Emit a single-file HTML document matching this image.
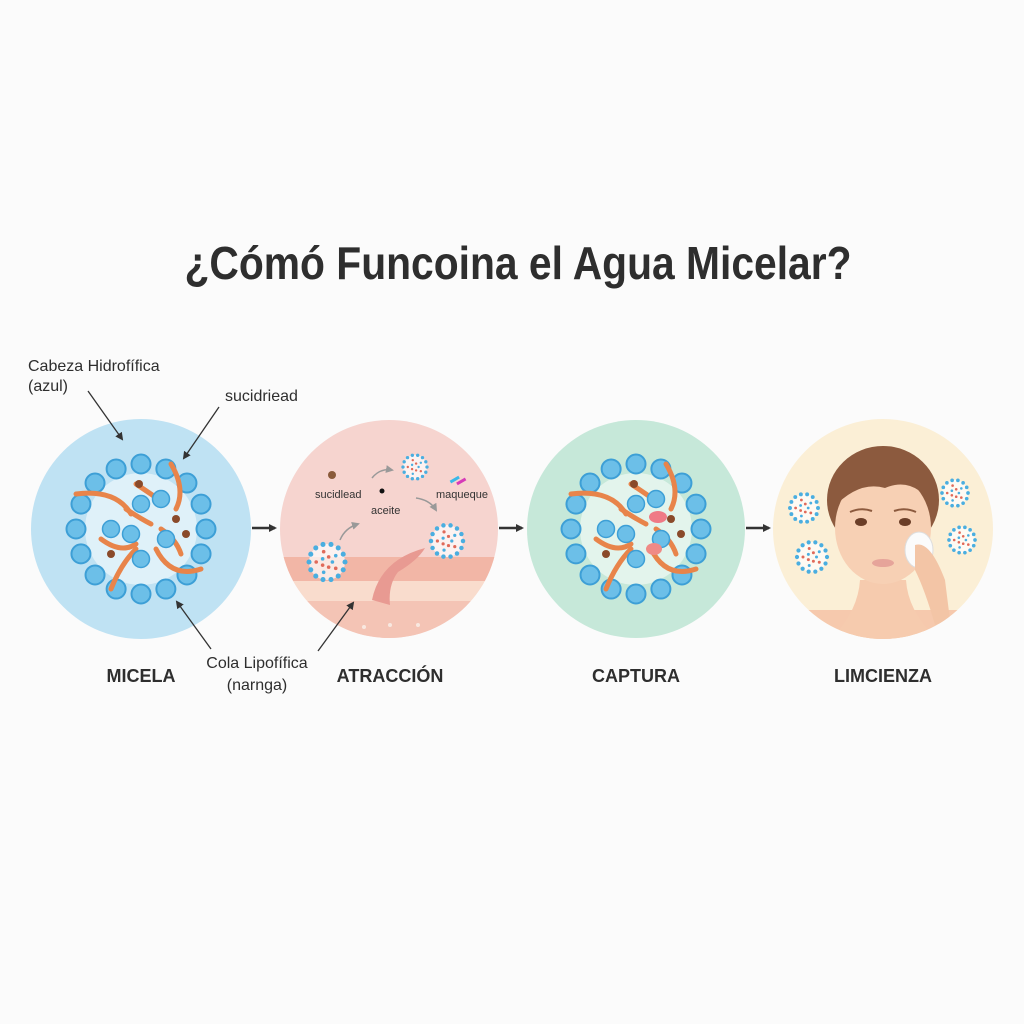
<!DOCTYPE html>
<html><head><meta charset="utf-8"><style>
html,body{margin:0;padding:0;background:#fbfbfb;}
svg{display:block;}
text{font-family:"Liberation Sans",sans-serif;}
</style></head><body>
<svg id="s" width="1024" height="1024" viewBox="0 0 1024 1024" xmlns="http://www.w3.org/2000/svg">
<defs>
<marker id="ah" markerWidth="8" markerHeight="8" refX="6" refY="4" orient="auto" markerUnits="userSpaceOnUse"><path d="M0,0 L8,4 L0,8 z" fill="#333"/></marker>
<marker id="ag" markerWidth="8" markerHeight="8" refX="6" refY="4" orient="auto" markerUnits="userSpaceOnUse"><path d="M0,0 L8,4 L0,8 z" fill="#999"/></marker>
<clipPath id="c2"><circle cx="389" cy="529" r="109"/></clipPath>
<clipPath id="c4"><circle cx="883" cy="529" r="110"/></clipPath>
</defs>
<rect width="1024" height="1024" fill="#fbfbfb"/>
<text x="518" y="279" text-anchor="middle" font-size="46" font-weight="bold" fill="#2e2e2e" textLength="667" lengthAdjust="spacingAndGlyphs">¿Cómó Funcoina el Agua Micelar?</text>

<circle cx="141" cy="529" r="110" fill="#bfe2f3"/>
<circle cx="389" cy="529" r="109" fill="#f6d4cf"/>
<circle cx="636" cy="529" r="109" fill="#c6e8d9"/>
<circle cx="883" cy="529" r="110" fill="#fbefd6"/>

<g clip-path="url(#c2)">
<rect x="270" y="557" width="240" height="24" fill="#f2b6a6"/>
<rect x="270" y="581" width="240" height="20" fill="#f9dccd"/>
<rect x="270" y="601" width="240" height="40" fill="#f4c4b5"/>
<path d="M372,600 Q380,560 425,548 Q418,560 398,572 Q388,585 390,605 Z" fill="#e89a92"/>
<g fill="#f8e8e0"><circle cx="364" cy="627" r="2"/><circle cx="390" cy="625" r="2"/><circle cx="418" cy="625" r="2"/></g>
</g>
<g id="dyn"></g>

<g clip-path="url(#c4)">
<rect x="800" y="610" width="170" height="40" fill="#f6c9ad"/>
<path d="M830,640 Q858,612 860,580 L906,580 Q908,612 938,640 Z" fill="#f6cbae"/>
<ellipse cx="883" cy="500" rx="56" ry="54" fill="#8c5a3e"/>
<ellipse cx="883" cy="528" rx="48" ry="56" fill="#f7d0b4"/>
<path d="M831,510 Q835,455 885,452 Q935,455 936,510 Q915,475 885,488 Q858,480 831,510 Z" fill="#8c5a3e"/>
<ellipse cx="861" cy="522" rx="6" ry="4" fill="#6b3e28"/>
<ellipse cx="905" cy="522" rx="6" ry="4" fill="#6b3e28"/>
<path d="M850,512 Q861,507 872,511 M894,511 Q905,507 916,512" stroke="#8c5a3e" stroke-width="2" fill="none"/>
<ellipse cx="883" cy="563" rx="11" ry="4" fill="#e6a49a"/>
<ellipse cx="919" cy="550" rx="14" ry="18" fill="#fbfbfb" stroke="#ddd"/>
<path d="M915,545 Q930,540 945,580 L950,620 L935,625 Q925,590 915,570 Z" fill="#f3c5a6"/>
</g>

<g font-size="16" fill="#2e2e2e">
<text x="28" y="371">Cabeza Hidrofífica</text>
<text x="28" y="391">(azul)</text>
<text x="225" y="401">sucidriead</text>
<text x="257" y="668" text-anchor="middle">Cola Lipofífica</text>
<text x="257" y="690" text-anchor="middle">(narnga)</text>
</g>
<g stroke="#333" stroke-width="1.3" fill="none" marker-end="url(#ah)">
<line x1="88" y1="391" x2="122" y2="439"/>
<line x1="219" y1="407" x2="184" y2="458"/>
<line x1="211" y1="649" x2="177" y2="602"/>
<line x1="318" y1="651" x2="353" y2="603"/>
</g>
<g stroke="#333" stroke-width="2.5" marker-end="url(#ah)">
<line x1="252" y1="528" x2="275" y2="528"/>
<line x1="499" y1="528" x2="522" y2="528"/>
<line x1="746" y1="528" x2="769" y2="528"/>
</g>
<g stroke="#999" stroke-width="1.5" fill="none" marker-end="url(#ag)">
<path d="M372,478 Q380,468 392,470"/>
<path d="M416,498 Q430,500 436,510"/>
<path d="M340,540 Q345,528 358,524"/>
</g>
<g font-size="11" fill="#333">
<text x="315" y="498">sucidlead</text>
<text x="371" y="514">aceite</text>
<text x="436" y="498">maqueque</text>
</g>
<circle cx="382" cy="491" r="2.5" fill="#111"/>
<circle cx="332" cy="475" r="4" fill="#8a5a3a"/>
<rect x="450" y="478" width="10" height="3" fill="#3ab8e8" transform="rotate(-30 455 480)"/>
<rect x="456" y="480" width="10" height="3" fill="#d63ab8" transform="rotate(-30 461 481)"/>

<g font-size="18" font-weight="bold" fill="#2e2e2e" text-anchor="middle">
<text x="141" y="682">MICELA</text>
<text x="390" y="682">ATRACCIÓN</text>
<text x="636" y="682">CAPTURA</text>
<text x="883" y="682">LIMCIENZA</text>
</g>
</svg>
<script>
var NS="http://www.w3.org/2000/svg",g=document.getElementById("dyn");
function el(t,a){var e=document.createElementNS(NS,t);for(var k in a)e.setAttribute(k,a[k]);g.appendChild(e);return e;}
function micelle(cx,cy,fill2){
 el("circle",{cx:cx,cy:cy,r:56,fill:"#ffffff","fill-opacity":0.5});
 var n=16;
 for(var i=0;i<n;i++){var a=i/n*Math.PI*2;el("circle",{cx:cx+65*Math.cos(a),cy:cy+65*Math.sin(a),r:9.5,fill:"#6cbfe8",stroke:"#3d9fd6","stroke-width":2});}
 var tails=[[-65,-35,-25,-40,-10,-15],[30,-65,45,-40,35,-20],[60,40,30,50,15,20],[-30,60,-20,35,-5,20],[-15,-20,0,-10,10,-5],[-40,10,-20,25,-5,15],[20,0,35,10,40,25],[-5,-45,10,-35,20,-28]];
 tails.forEach(function(t){el("path",{d:"M"+(cx+t[0])+","+(cy+t[1])+" Q"+(cx+t[2])+","+(cy+t[3])+" "+(cx+t[4])+","+(cy+t[5]),stroke:"#e8844a","stroke-width":5,fill:"none","stroke-linecap":"round"});});
 [[-30,0],[0,-25],[25,10],[0,30],[-10,5],[20,-30]].forEach(function(p){el("circle",{cx:cx+p[0],cy:cy+p[1],r:8.5,fill:"#6cbfe8",stroke:"#3d9fd6","stroke-width":1.5});});
 [[-2,-45],[35,-10],[-30,25],[45,5]].forEach(function(p){el("circle",{cx:cx+p[0],cy:cy+p[1],r:4,fill:"#8a4a2a"});});
 if(fill2){el("ellipse",{cx:cx+22,cy:cy-12,rx:9,ry:6,fill:"#ef7a86"});el("ellipse",{cx:cx+18,cy:cy+20,rx:8,ry:6,fill:"#ef8a86"});}
}
micelle(141,529,false);micelle(636,529,true);
function mini(cx,cy,r){
 el("circle",{cx:cx,cy:cy,r:r,fill:"#ffffff","fill-opacity":0.7});
 for(var i=0;i<14;i++){var a=i/14*Math.PI*2;el("circle",{cx:cx+r*Math.cos(a),cy:cy+r*Math.sin(a),r:r*0.14,fill:"#4aaee0"});}
 for(var j=0;j<10;j++){var a2=j/10*Math.PI*2,rr=r*(0.3+0.3*(j%2));el("circle",{cx:cx+rr*Math.cos(a2),cy:cy+rr*Math.sin(a2),r:r*0.1,fill:j%3?"#e06a5a":"#4aaee0"});}
}
mini(415,467,12);mini(447,541,16);mini(327,562,18);
mini(804,508,14);mini(812,557,15);mini(955,493,13);mini(962,540,13);
[[850,540],[856,548],[848,555],[860,538],[852,530]].forEach(function(p){el("circle",{cx:p[0],cy:p[1],r:2,fill:"#fff"});});
</script>
</body></html>
